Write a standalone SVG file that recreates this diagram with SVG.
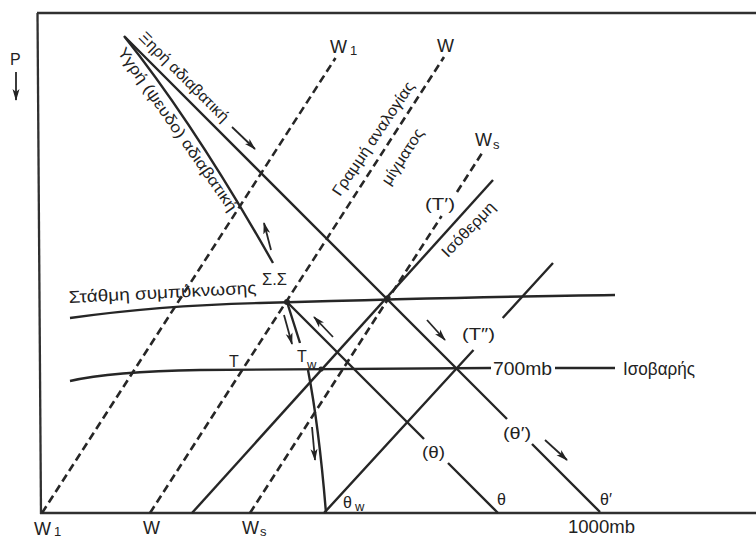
<svg xmlns="http://www.w3.org/2000/svg" width="756" height="540" viewBox="0 0 756 540">
<defs>
<marker id="ah" viewBox="0 0 12 8" refX="11" refY="4" markerWidth="12" markerHeight="8" markerUnits="userSpaceOnUse" orient="auto">
<path d="M0,0.5 L12,4 L0,7.5 L3,4 Z" fill="#232323"/>
</marker>
<style>
.ln{fill:none;stroke:#262626;stroke-width:2.4}
.ds{fill:none;stroke:#262626;stroke-width:2.6;stroke-dasharray:8 4.5}
.fr{fill:none;stroke:#303030;stroke-width:2.3}
.ar{fill:none;stroke:#262626;stroke-width:1.8;marker-end:url(#ah)}
.dot{fill:#262626}
text{font-family:"Liberation Sans",Arial,"DejaVu Sans",sans-serif;fill:#222}
.lab{font-size:18px}
.sub{font-size:13px}
.gr{font-size:15.5px}
.md{font-size:16px}
</style>
</defs>
<rect width="756" height="540" fill="#ffffff"/>

<g id="frame">
<path class="fr" d="M37.5,13 L41,514"/>
<path class="fr" d="M37,13 L756,13"/>
<path class="fr" d="M40,513 L756,513"/>
</g>

<g id="connectors">
<!-- mixing ratio lines (dashed) -->
<path id="w1-line" class="ds" d="M42,513 L335.5,58"/>
<path id="w-line" class="ds" d="M150,513 L444,57"/>
<path id="ws-line" class="ds" d="M250,513 L441.6,216 M457,192 L484,150"/>
<!-- isotherms -->
<path id="isotherm" class="ln" d="M192,513 L493,180"/>
<path id="isotherm2" class="ln" d="M324,513 L473.5,350 M502.7,318 L553,263"/>
<!-- dry adiabats -->
<path id="dry-theta-prime" class="ln" d="M125,37 L507,419 M532,444 L600,512"/>
<path id="dry-theta" class="ln" d="M287,302 L424,439 M448,463 L498,513"/>
<!-- moist adiabat -->
<path id="moist" class="ln" d="M124,36 Q195,125 273,263 M287,302 L300,343 M308,370 Q319,427 326,513"/>
<!-- condensation level -->
<path id="lcl" class="ln" d="M70,318 C130,309.5 200,304.5 260,303 C400,299 520,296 615,295"/>
<!-- 700 mb isobar -->
<path id="isobar" class="ln" d="M70,381 C100,374 140,371 200,370 L491,368 M555,368 L615,368"/>
<!-- crossing dots -->
<circle class="dot" cx="287" cy="302" r="3"/>
<circle class="dot" cx="387" cy="298" r="2.6"/>
<circle class="dot" cx="321" cy="369" r="2.6"/>
<!-- arrows -->
<path class="ar" d="M16,72 L16,100"/>
<path class="ar" d="M232,127 L255,149"/>
<path class="ar" d="M271,250 L264,223"/>
<path class="ar" d="M284,315 L292,344"/>
<path class="ar" d="M333,337 L314,317"/>
<path class="ar" d="M427,320 L445,340"/>
<path class="ar" d="M312,427 L315,460"/>
<path class="ar" d="M545,440 L567,460"/>
</g>

<g id="labels">
<text class="md" x="10" y="65">P</text>
<text class="gr" transform="translate(138,38) rotate(45)" textLength="120" lengthAdjust="spacingAndGlyphs">Ξηρή αδιαβατική</text>
<text class="gr" transform="translate(117,52) rotate(55)" textLength="196" lengthAdjust="spacingAndGlyphs">Υγρή (ψευδο) αδιαβατική</text>
<text class="gr" text-anchor="middle" transform="translate(377.5,141.5) rotate(-56)" textLength="134" lengthAdjust="spacingAndGlyphs">Γραμμή αναλογίας</text>
<text class="gr" text-anchor="middle" transform="translate(407,159.5) rotate(-57)" textLength="64" lengthAdjust="spacingAndGlyphs">μίγματος</text>
<text class="gr" text-anchor="middle" transform="translate(472,233) rotate(-46)" textLength="70" lengthAdjust="spacingAndGlyphs">Ισόθερμη</text>
<text style="font-size:17px" transform="translate(69,303) rotate(-2.9)" textLength="188" lengthAdjust="spacingAndGlyphs">Στάθμη συμπύκνωσης</text>
<text class="md" x="262" y="285" textLength="25" lengthAdjust="spacingAndGlyphs">Σ.Σ</text>
<text class="md" x="229" y="367">T</text>
<text class="md" x="297" y="362">T</text><text class="sub" x="307" y="369">w</text>
<text class="md" x="425" y="210" textLength="30" lengthAdjust="spacingAndGlyphs">(T′)</text>
<text class="md" x="462" y="340" textLength="33" lengthAdjust="spacingAndGlyphs">(T″)</text>
<text class="lab" x="493" y="375" textLength="59" lengthAdjust="spacingAndGlyphs">700mb</text>
<text class="lab" x="623" y="375" textLength="72" lengthAdjust="spacingAndGlyphs">Ισοβαρής</text>
<text class="md" x="422" y="458" textLength="23" lengthAdjust="spacingAndGlyphs">(θ)</text>
<text class="md" x="503" y="439" textLength="28" lengthAdjust="spacingAndGlyphs">(θ′)</text>
<text class="md" x="343" y="508">θ</text><text class="sub" x="355" y="511">w</text>
<text class="md" x="497" y="505">θ</text>
<text class="md" x="600" y="505">θ′</text>
<text class="lab" x="568" y="533" textLength="67" lengthAdjust="spacingAndGlyphs">1000mb</text>
<text class="lab" x="34" y="535">W</text><text class="sub" x="54" y="536">1</text>
<text class="lab" x="143" y="534">W</text>
<text class="lab" x="242" y="534">W</text><text class="sub" x="260" y="536">s</text>
<text class="lab" x="330" y="53">W</text><text class="sub" x="350" y="55">1</text>
<text class="lab" x="437" y="52">W</text>
<text class="lab" x="475" y="146">W</text><text class="sub" x="493" y="149">s</text>
</g>
</svg>
